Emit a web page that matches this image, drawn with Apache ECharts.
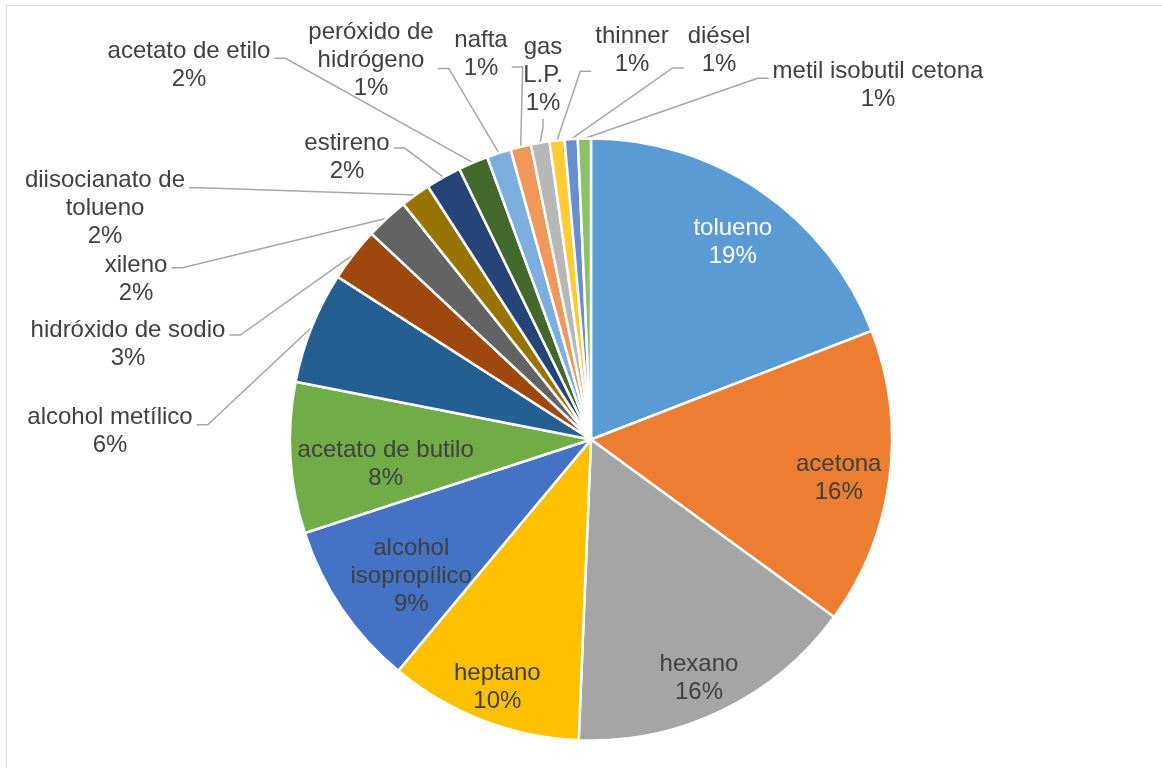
<!DOCTYPE html>
<html>
<head>
<meta charset="utf-8">
<title>Sustancias</title>
<script src="https://cdn.jsdelivr.net/npm/echarts@6/dist/echarts.min.js"></script>
<style>
  html, body { margin: 0; padding: 0; background: #fff; overflow: hidden; }
  /* marco gris del gráfico (solo se ven los bordes superior e izquierdo) */
  #frame { position: absolute; left: 6px; top: 5px; width: 1300px; height: 900px;
           border-top: 1.5px solid #d9d9d9; border-left: 1.5px solid #d9d9d9; }
  #main { position: absolute; left: 0; top: 0; width: 1162px; height: 768px; }
</style>
</head>
<body>
<div id="frame"></div>
<div id="main"></div>
<script>
// datos del gráfico
const categories = ['tolueno', 'acetona', 'hexano', 'heptano', 'alcohol isopropílico',
  'acetato de butilo', 'alcohol metílico', 'hidróxido de sodio', 'xileno',
  'diisocianato de tolueno', 'estireno', 'acetato de etilo', 'peróxido de hidrógeno',
  'nafta', 'gas L.P.', 'thinner', 'diésel', 'metil isobutil cetona']
const shares = [19.1, 15.9, 15.6, 10.4, 8.9, 8.1, 6.0, 2.9, 2.3, 1.6, 1.9, 1.6, 1.3, 1.1, 1.0, 0.8, 0.7, 0.7]
// texto de las etiquetas (con los saltos de línea del original)
const labelNames = ['tolueno', 'acetona', 'hexano', 'heptano', 'alcohol\nisopropílico',
  'acetato de butilo', 'alcohol metílico', 'hidróxido de sodio', 'xileno',
  'diisocianato de\ntolueno', 'estireno', 'acetato de etilo', 'peróxido de\nhidrógeno',
  'nafta', 'gas\nL.P.', 'thinner', 'diésel', 'metil isobutil cetona']

const colors = ['#5B9BD5', '#ED7D31', '#A5A5A5', '#FFC000', '#4472C4', '#70AD47',
  '#255E91', '#9E480E', '#636363', '#997300', '#264478', '#43682B',
  '#7CAFDD', '#F1975A', '#B7B7B7', '#FFCD33', '#698ED0', '#8CC168']

const insideCount = 6 // las primeras 6 llevan la etiqueta dentro

// pequeños ajustes de las etiquetas interiores (como Excel)
const insideNudge = [[4, 4], [6, 7], [2, 19], [-6, 20], [22, 0], [38, 10]]

// etiquetas exteriores colocadas a mano: [x centro, y centro, altura relativa donde se engancha la guía (-1 = abajo)]
const outerSpots = {
  'alcohol metílico': [110, 431, 0.39],
  'hidróxido de sodio': [128, 344, 0.34],
  'xileno': [136, 279, 0.3],
  'diisocianato de tolueno': [105, 208, 0.26],
  'estireno': [347, 157, 0.34],
  'acetato de etilo': [189, 65, 0.38],
  'peróxido de hidrógeno': [371, 60, 0.6],
  'nafta': [481, 54, 0.73],
  'gas L.P.': [543, 75, -1],
  'thinner': [632, 50, 0.88],
  'diésel': [719, 50, 0.82],
  'metil isobutil cetona': [878, 85, 0.38]
}

const center = [591, 439.5]
const R = 301
const font = { color: '#404040', fontSize: 24, lineHeight: 28, fontFamily: '"Liberation Sans", Arial, sans-serif' }

function fmt(p) {
  return labelNames[p.dataIndex] + '\n' + Math.round(p.percent) + '%'
}

const chart = echarts.init(document.getElementById('main'))

const option = {
  animation: false,
  series: [
    {
      // tarta principal con las etiquetas exteriores
      type: 'pie',
      center: center,
      radius: R,
      startAngle: 90,
      clockwise: true,
      avoidLabelOverlap: false,
      emphasis: { disabled: true },
      itemStyle: { borderColor: '#fff', borderWidth: 2.5 },
      label: Object.assign({ show: true, position: 'outside', formatter: fmt, align: 'center' }, font),
      labelLine: { show: true, length: 10, length2: 12, lineStyle: { color: '#a6a6a6', width: 1.5 } },
      labelLayout: function (p) {
        const spot = outerSpots[categories[p.dataIndex]]
        if (!spot || !p.labelLinePoints) return {}
        const w = p.labelRect.width
        const h = p.labelRect.height
        const left = spot[0] - w / 2
        const top = spot[1] - h / 2
        const anchor = p.labelLinePoints[0] // punto del borde del sector
        let attach, bend
        if (spot[2] < 0) {
          attach = [spot[0], top + h + 2]
          bend = [spot[0], top + h + 10]
        } else {
          const y = top + h * spot[2]
          if (anchor[0] > spot[0]) {
            attach = [left + w + 4, y]
            bend = [left + w + 15, y]
          } else {
            attach = [left - 4, y]
            bend = [left - 15, y]
          }
        }
        return {
          x: spot[0], y: spot[1], align: 'center', verticalAlign: 'middle',
          labelLinePoints: [anchor, bend, attach]
        }
      },
      data: categories.map((name, i) => ({
        name: name,
        value: shares[i],
        itemStyle: { color: colors[i] },
        label: { show: i >= insideCount },
        labelLine: { show: i >= insideCount }
      }))
    },
    {
      // anillo transparente que solo sirve para colocar las etiquetas interiores
      type: 'pie',
      center: center,
      radius: [R * 0.6, R],
      startAngle: 90,
      clockwise: true,
      silent: true,
      itemStyle: { color: 'rgba(0,0,0,0)', borderWidth: 0 },
      label: Object.assign({ show: true, position: 'inside', formatter: fmt, align: 'center' }, font),
      labelLine: { show: false },
      data: categories.map((name, i) => ({
        name: name,
        value: shares[i],
        label: {
          show: i < insideCount,
          color: i === 0 ? '#fff' : '#404040',
          offset: insideNudge[i] || [0, 0]
        }
      }))
    }
  ]
}

chart.setOption(option)
</script>
</body>
</html>
